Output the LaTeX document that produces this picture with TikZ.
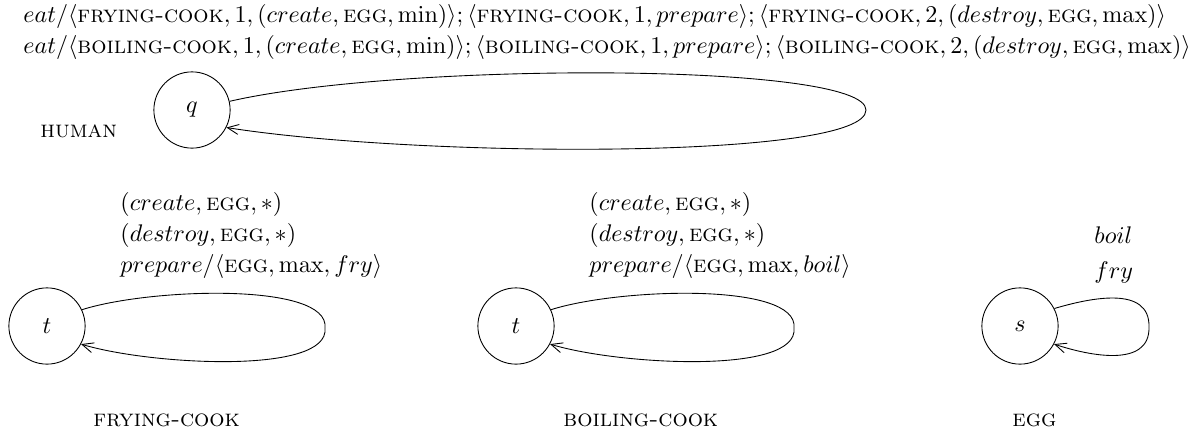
\documentclass[tikz,border=0pt]{standalone}
\usetikzlibrary{arrows.meta}
\newcommand{\agt}[1]{\textsc{#1}}

\begin{document}
\begin{tikzpicture}[x=0.16mm, y=-0.16mm,
    every node/.style={font=\fontsize{10.9}{13}\selectfont},
    loc/.style={circle, draw, minimum size=12.2mm, inner sep=0pt},
    lbl/.style={anchor=base west, inner sep=0pt},
    arr/.style={-{Straight Barb[length=1.8mm,width=1.6mm]}}]
    \useasboundingbox (0,0) rectangle (1199,434);

    % Draw the rules of the human
    \node[lbl] (rulea) at (23,22) {$eat/\langle\agt{frying-cook}, 1, (create, \agt{egg}, \min)\rangle; \langle\agt{frying-cook}, 1, prepare\rangle; \langle\agt{frying-cook}, 2, (destroy, \agt{egg}, \max)\rangle$};
    \node[lbl] (ruleb) at (23,53) {$eat/\langle\agt{boiling-cook}, 1, (create, \agt{egg}, \min)\rangle; \langle\agt{boiling-cook}, 1, prepare\rangle; \langle\agt{boiling-cook}, 2, (destroy, \agt{egg}, \max)\rangle$};

    % Draw the human state and its loop
    \node[loc] (q) at (192,110) {$q$};
    \node[lbl] (human) at (40,137) {\agt{human}};
    \coordinate (qtip) at (866,110);
    \draw[arr] (q.13) .. controls (400,62) and (866,62) .. (qtip)
        .. controls (866,160) and (420,158) .. (q.-27);

    % Draw the frying cook
    \node[loc] (tf) at (47,326) {$t$};
    \coordinate (tftip) at (325,328);
    \draw[arr] (tf.25) .. controls (150,288) and (330,282) .. (tftip)
        .. controls (330,375) and (150,365) .. (tf.-28);
    \node[lbl] (fa) at (120,210) {$(create, \agt{egg}, *)$};
    \node[lbl] (fb) at (120,241) {$(destroy, \agt{egg}, *)$};
    \node[lbl] (fc) at (120,272) {$prepare/\langle\agt{egg}, \max, fry\rangle$};
    \node[lbl] (fry) at (93,426) {\agt{frying-cook}};

    % Draw the boiling cook
    \node[loc] (tb) at (516,326) {$t$};
    \coordinate (tbtip) at (794,328);
    \draw[arr] (tb.25) .. controls (619,288) and (799,282) .. (tbtip)
        .. controls (799,375) and (619,365) .. (tb.-28);
    \node[lbl] (ba) at (589,210) {$(create, \agt{egg}, *)$};
    \node[lbl] (bb) at (589,241) {$(destroy, \agt{egg}, *)$};
    \node[lbl] (bc) at (589,272) {$prepare/\langle\agt{egg}, \max, boil\rangle$};
    \node[lbl] (boil) at (563,426) {\agt{boiling-cook}};

    % Draw the egg
    \node[loc] (s) at (1020,326) {$s$};
    \coordinate (stip) at (1149,327);
    \draw[arr] (s.27) .. controls (1090,298) and (1150,285) .. (stip)
        .. controls (1150,368) and (1090,356) .. (s.-28);
    \node[lbl] (sa) at (1094,243) {$boil$};
    \node[lbl] (sb) at (1094,278) {$fry$};
    \node[lbl] (egg) at (1012,426) {\agt{egg}};

\end{tikzpicture}
\end{document}
